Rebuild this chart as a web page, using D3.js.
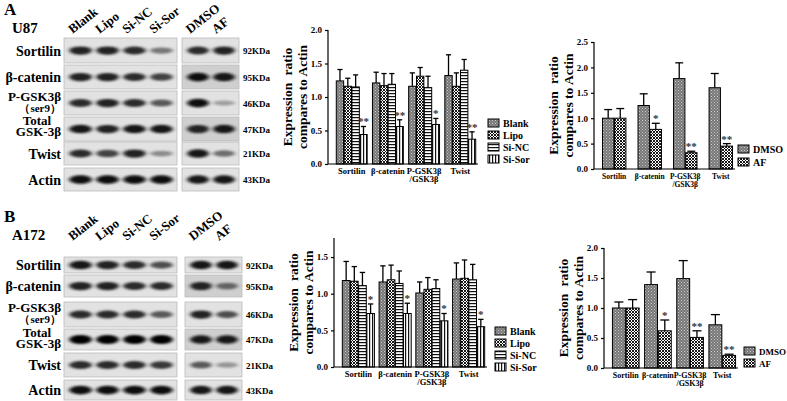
<!doctype html>
<html>
<head>
<script src="https://d3js.org/d3.v7.min.js"></script>
<style>
body{margin:0;background:#fff;font-family:'Liberation Serif',serif;}
text{font-family:'Liberation Serif',serif;font-weight:bold;}
</style>
</head>
<body>
<svg id="fig" width="787" height="401"></svg>
<script>
// ---- data ----
var proteins = ["Sortilin","β-catenin","P-GSK3β","Total GSK-3β","Twist","Actin"];
var weights = ["92KDa","95KDa","46KDa","47KDa","21KDa","43KDa"];
var lanesSi = ["Blank","Lipo","Si-NC","Si-Sor"];
var lanesAF = ["DMSO","AF"];
var groups = ["Sortilin","β-catenin","P-GSK3β\n/GSK3β","Twist"];

// band darkness (0..1) per row, si lanes then AF lanes
var bandsU87 = [[0.85,0.85,0.8,0.45,0.8,0.85],[0.85,0.85,0.8,0.7,0.95,0.9],[0.8,0.85,0.8,0.6,0.95,0.25],[0.9,0.85,0.9,0.9,0.85,0.9],[0.8,0.7,0.85,0.35,0.9,0.5],[0.95,0.95,0.95,0.95,0.9,0.9]];
var bandsA172 = [[0.9,0.85,0.8,0.65,0.9,0.9],[0.85,0.85,0.8,0.8,0.85,0.55],[0.8,0.8,0.8,0.6,0.85,0.65],[1,1,1,1,0.9,0.9],[0.8,0.8,0.8,0.75,0.6,0.3],[0.95,0.95,0.95,0.95,0.9,0.9]];

var u87Blank = [1.24,1.21,1.16,1.32], u87BlankErr = [0.17,0.16,0.20,0.31];
var u87Lipo  = [1.16,1.17,1.31,1.16], u87LipoErr  = [0.12,0.18,0.13,0.20];
var u87NC    = [1.15,1.19,1.14,1.40], u87NCErr    = [0.18,0.16,0.17,0.16];
var u87Sor   = [0.44,0.56,0.59,0.37], u87SorErr   = [0.12,0.10,0.09,0.11];
var u87SorStar = ["**","**","*","**"];

var u87DMSO = [1.00,1.25,1.78,1.60], u87DMSOErr = [0.17,0.23,0.31,0.28];
var u87AF   = [1.00,0.78,0.32,0.45], u87AFErr   = [0.19,0.12,0.03,0.05];
var u87AFStar = ["","*","**","**"];

var a172Blank = [1.18,1.16,1.01,1.20], a172BlankErr = [0.26,0.22,0.15,0.22];
var a172Lipo  = [1.17,1.19,1.06,1.21], a172LipoErr  = [0.20,0.20,0.16,0.25];
var a172NC    = [1.11,1.14,1.07,1.19], a172NCErr    = [0.18,0.17,0.12,0.21];
var a172Sor   = [0.73,0.73,0.63,0.55], a172SorErr   = [0.13,0.14,0.10,0.10];
var a172SorStar = ["*","*","*","*"];

var a172DMSO = [1.00,1.39,1.49,0.72], a172DMSOErr = [0.10,0.21,0.30,0.17];
var a172AF   = [1.00,0.62,0.51,0.21], a172AFErr   = [0.14,0.18,0.11,0.02];
var a172AFStar = ["","*","**","**"];

var svg = d3.select("#fig");
var defs = svg.append("defs");

// patterns
function pat(id, draw){
  var p = defs.append("pattern").attr("id",id).attr("patternUnits","userSpaceOnUse").attr("width",3).attr("height",3);
  draw(p);
}
pat("pBlank",function(p){p.append("rect").attr("width",3).attr("height",3).attr("fill","#777");
  p.append("rect").attr("width",1).attr("height",1).attr("fill","#ccc");
  p.append("rect").attr("x",1.5).attr("y",1.5).attr("width",1).attr("height",1).attr("fill","#bbb");});
pat("pLipo",function(p){p.append("rect").attr("width",3).attr("height",3).attr("fill","#fff");
  p.append("path").attr("d","M0,0L3,3M3,0L0,3").attr("stroke","#000").attr("stroke-width",0.9);});
pat("pNC",function(p){p.append("rect").attr("width",3).attr("height",3).attr("fill","#fff");
  p.append("rect").attr("width",3).attr("height",1.2).attr("fill","#111");});
pat("pSor",function(p){p.append("rect").attr("width",3).attr("height",3).attr("fill","#fff");
  p.append("rect").attr("width",1.2).attr("height",3).attr("fill","#111");});
defs.append("filter").attr("id","blur").attr("x","-50%").attr("y","-100%").attr("width","200%").attr("height","300%")
  .append("feGaussianBlur").attr("stdDeviation","2.2 1.3");

// ---- western blot panels ----
function blot(letter, cell, y0, rows, bands, rightX){
  svg.append("text").attr("x",4).attr("y",y0+15).attr("font-size",17).text(letter);
  svg.append("text").attr("x",12).attr("y",y0+33).attr("font-size",15).text(cell);
  var lanesAll = lanesSi.concat(lanesAF);
  var laneX = d3.scaleBand().domain(lanesSi).range([66,176]).padding(0.08);
  var laneX2 = d3.scaleBand().domain(lanesAF).range([rightX+2,rightX+56]).padding(0.08);
  lanesAll.forEach(function(l,i){
    var cx = i<4 ? laneX(l)+laneX.bandwidth()/2 : laneX2(l)+laneX2.bandwidth()/2;
    svg.append("text").attr("transform","translate("+(cx-8)+","+(y0+34)+") rotate(-38)")
      .attr("font-size",13).text(l);
  });
  rows.forEach(function(r,k){
    var h = r[1]-r[0];
    [[64,177],[rightX,rightX+57]].forEach(function(b,bi){
      svg.append("rect").attr("x",b[0]).attr("y",r[0]).attr("width",b[1]-b[0]).attr("height",h)
        .attr("fill", bi==1 && (k==1||k==3) ? "#cfcfcf" : "#e2e2e2").attr("stroke","#bbb").attr("stroke-width",0.8);
    });
    lanesAll.forEach(function(l,i){
      var sc = i<4 ? laneX : laneX2;
      var d = bands[k][i];
      svg.append("ellipse").attr("cx",sc(l)+sc.bandwidth()/2).attr("cy",r[0]+h/2)
        .attr("rx",sc.bandwidth()/2-1).attr("ry",2+d*2.5)
        .attr("fill",d3.interpolateGreys(0.3+d*0.7)).attr("filter","url(#blur)");
    });
    var lab = proteins[k];
    if(k==2){
      svg.append("text").attr("x",61).attr("y",r[0]+10).attr("text-anchor","end").attr("font-size",13).text("P-GSK3β");
      svg.append("text").attr("x",61).attr("y",r[0]+21).attr("text-anchor","end").attr("font-size",11).text("（ser9）");
    } else if(k==3){
      svg.append("text").attr("x",37).attr("y",r[0]+8).attr("text-anchor","middle").attr("font-size",13).text("Total");
      svg.append("text").attr("x",61).attr("y",r[0]+19).attr("text-anchor","end").attr("font-size",13).text("GSK-3β");
    } else {
      svg.append("text").attr("x",61).attr("y",r[0]+h/2+5).attr("text-anchor","end").attr("font-size",14).text(lab);
    }
    svg.append("text").attr("x",rightX+61).attr("y",r[0]+h/2+3.5).attr("font-size",9).text(weights[k]);
  });
}
blot("A","U87",0,[[38,63],[65,89],[91,115],[117,141],[142,165],[168,191]],bandsU87,182);
blot("B","A172",207,[[257,273],[275,297],[302,327],[329,350],[353,377],[380,400]],bandsA172,185);

// ---- bar charts ----
function barChart(o){
  var g = svg.append("g");
  var y = d3.scaleLinear().domain([0,o.max]).range([o.base,o.top]);
  var x0 = d3.scaleBand().domain(groups).range([o.ax+6,o.axEnd]).paddingInner(o.pad).paddingOuter(0.05);
  var x1 = d3.scaleBand().domain(o.series.map(function(s){return s.name;})).range([0,x0.bandwidth()]).padding(0.06);
  o.series.forEach(function(s){
    groups.forEach(function(gname,i){
      var bx = x0(gname)+x1(s.name), bw = x1.bandwidth(), cx = bx+bw/2;
      g.append("line").attr("x1",cx).attr("x2",cx).attr("y1",y(s.v[i])).attr("y2",y(s.v[i]+s.e[i])).attr("stroke","#000").attr("stroke-width",1.3);
      g.append("line").attr("x1",cx-bw*0.35).attr("x2",cx+bw*0.35).attr("y1",y(s.v[i]+s.e[i])).attr("y2",y(s.v[i]+s.e[i])).attr("stroke","#000").attr("stroke-width",1.3);
      g.append("rect").attr("x",bx).attr("y",y(s.v[i])).attr("width",bw).attr("height",o.base-y(s.v[i]))
        .attr("fill","url(#"+s.pat+")").attr("stroke","#000").attr("stroke-width",1);
      if(s.star && s.star[i]) g.append("text").attr("x",cx).attr("y",y(s.v[i]+s.e[i])-1).attr("text-anchor","middle")
        .attr("font-size",11).attr("font-weight","normal").attr("fill","#333").text(s.star[i]);
    });
  });
  var ya = g.append("g").attr("transform","translate("+o.ax+",0)")
    .call(d3.axisLeft(y).tickValues(o.ticks).tickFormat(d3.format(".1f")).tickSize(3).tickSizeOuter(0));
  ya.select(".domain").attr("d","M0,"+o.base+"V"+o.top);
  ya.selectAll("text").attr("font-size",9).attr("font-family","Liberation Serif").attr("fill","#000");
  ya.selectAll("path,line").attr("stroke","#000").attr("stroke-width",1.2);
  g.append("line").attr("x1",o.ax).attr("x2",o.axEnd).attr("y1",o.base).attr("y2",o.base).attr("stroke","#000").attr("stroke-width",1.2);
  groups.forEach(function(gname){
    var cx = x0(gname)+x0.bandwidth()/2;
    var parts = gname.split("\n");
    parts.forEach(function(p,j){
      g.append("text").attr("x",cx).attr("y",o.base+10+j*8).attr("text-anchor","middle").attr("font-size",o.gfs)
        .attr("textLength", j==0 ? null : null).text(p);
    });
  });
  var ly = g.append("text").attr("transform","translate("+(o.ax-28)+","+((o.base+o.top)/2)+") rotate(-90)")
    .attr("text-anchor","middle").attr("font-size",13.5);
  ly.append("tspan").attr("x",0).attr("dy",-8).attr("word-spacing",4).text("Expression ratio");
  ly.append("tspan").attr("x",0).attr("dy",15).text("compares to Actin");
  o.series.forEach(function(s,i){
    g.append("rect").attr("x",o.lx).attr("y",o.ly+i*o.lstep).attr("width",11).attr("height",8)
      .attr("fill","url(#"+s.pat+")").attr("stroke","#000");
    g.append("text").attr("x",o.lx+15).attr("y",o.ly+i*o.lstep+8).attr("font-size",o.lfs).text(s.name);
  });
}

barChart({ax:328,axEnd:478,top:30,base:164,max:2.0,ticks:[0,0.5,1,1.5,2],pad:0.12,gfs:8.5,lfs:10,
  lx:488,ly:119,lstep:12,
  series:[{name:"Blank",v:u87Blank,e:u87BlankErr,pat:"pBlank"},{name:"Lipo",v:u87Lipo,e:u87LipoErr,pat:"pLipo"},
          {name:"Si-NC",v:u87NC,e:u87NCErr,pat:"pNC"},{name:"Si-Sor",v:u87Sor,e:u87SorErr,pat:"pSor",star:u87SorStar}]});
barChart({ax:594,axEnd:735,top:42,base:169,max:2.5,ticks:[0,0.5,1,1.5,2,2.5],pad:0.3,gfs:7.5,lfs:10,
  lx:738,ly:145,lstep:13,
  series:[{name:"DMSO",v:u87DMSO,e:u87DMSOErr,pat:"pBlank"},{name:"AF",v:u87AF,e:u87AFErr,pat:"pLipo",star:u87AFStar}]});
barChart({ax:334,axEnd:487,top:238,base:367,max:1.76,ticks:[0,0.5,1,1.5],pad:0.1,gfs:8.5,lfs:10,
  lx:495,ly:327,lstep:12,
  series:[{name:"Blank",v:a172Blank,e:a172BlankErr,pat:"pBlank"},{name:"Lipo",v:a172Lipo,e:a172LipoErr,pat:"pLipo"},
          {name:"Si-NC",v:a172NC,e:a172NCErr,pat:"pNC"},{name:"Si-Sor",v:a172Sor,e:a172SorErr,pat:"pSor",star:a172SorStar}]});
barChart({ax:604,axEnd:738,top:248,base:368,max:2.0,ticks:[0,0.5,1,1.5,2],pad:0.12,gfs:8,lfs:9,
  lx:744,ly:347,lstep:12,
  series:[{name:"DMSO",v:a172DMSO,e:a172DMSOErr,pat:"pBlank"},{name:"AF",v:a172AF,e:a172AFErr,pat:"pLipo",star:a172AFStar}]});
</script>
</body>
</html>
